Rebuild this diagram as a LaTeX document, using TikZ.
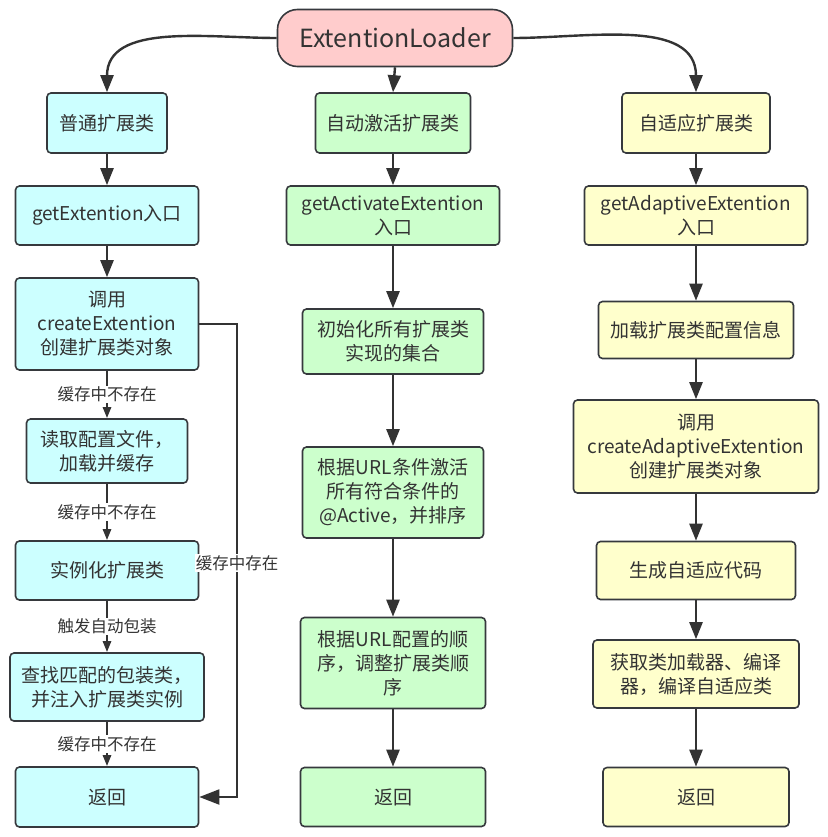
\documentclass[tikz,border=0pt]{standalone}
\usepackage{fontspec}
\setmainfont{Noto Sans CJK SC}
\usetikzlibrary{arrows.meta, positioning, calc}
\definecolor{ink}{HTML}{333333}
\definecolor{edge}{HTML}{36393D}
\definecolor{pinkfill}{HTML}{FFCCCC}
\definecolor{cyanfill}{HTML}{CCFFFF}
\definecolor{greenfill}{HTML}{CCFFCC}
\definecolor{yellowfill}{HTML}{FFFFCC}

\begin{document}
\begin{tikzpicture}[x=1pt, y=-1pt,
  box/.style={draw=edge, line width=1.6pt, rounded corners=4pt, align=center,
    text=ink, inner sep=2pt, font=\fontsize{19}{24}\selectfont},
  wh/.style 2 args={minimum width=#1pt, minimum height=#2pt},
  cyanbox/.style={box, fill=cyanfill},
  greenbox/.style={box, fill=greenfill},
  yellowbox/.style={box, fill=yellowfill},
  arr/.style={draw=ink, line width=2.4pt, -{Triangle[length=17pt,width=13pt]}},
  tagarr/.style={draw=ink, line width=2.4pt, -{Triangle[length=11pt,width=8pt]}},
  tag/.style={fill=white, text=ink, inner sep=1pt, font=\fontsize{16.5}{20}\selectfont}]
  \useasboundingbox (0,0) rectangle (827,837);

  % Root and the three kinds
  \node[box, fill=pinkfill, rounded corners=20pt, wh={235}{57},
    font=\fontsize{25}{30}\selectfont] (loader) at (395,38) {ExtentionLoader};
  \node[cyanbox, wh={120}{60}]   (normal)   at (107,123) {普通扩展类};
  \node[greenbox, wh={155}{60}]  (activate) at (393,123) {自动激活扩展类};
  \node[yellowbox, wh={148}{60}] (adaptive) at (696,123) {自适应扩展类};

  % Left column
  \node[cyanbox, wh={183}{59}] (getext) at (107,215.5) {getExtention入口};
  \node[cyanbox, wh={183}{92}] (create) at (107,324) {调用\\createExtention\\创建扩展类对象};
  \node[cyanbox, wh={161}{64}] (read)   at (107,451) {读取配置文件，\\加载并缓存};
  \node[cyanbox, wh={183}{59}] (inst)   at (107,570.5) {实例化扩展类};
  \node[cyanbox, wh={194}{68}] (wrap)   at (107,687) {查找匹配的包装类，\\并注入扩展类实例};
  \node[cyanbox, wh={183}{60}] (ret1)   at (107,797) {返回};

  % Middle column
  \node[greenbox, wh={213}{59}] (getact)   at (393,215.5) {getActivateExtention\\入口};
  \node[greenbox, wh={181}{65}] (init)     at (393,341.5) {初始化所有扩展类\\实现的集合};
  \node[greenbox, wh={181}{91}] (urlcond)  at (393,492.5) {根据URL条件激活\\所有符合条件的\\@Active，并排序};
  \node[greenbox, wh={185}{91}] (urlorder) at (393,663) {根据URL配置的顺\\序，调整扩展类顺\\序};
  \node[greenbox, wh={185}{59}] (ret2)     at (393,797) {返回};

  % Right column
  \node[yellowbox, wh={223}{59}] (getadp)    at (696,215.5) {getAdaptiveExtention\\入口};
  \node[yellowbox, wh={195}{57}] (loadcfg)   at (696,330) {加载扩展类配置信息};
  \node[yellowbox, wh={245}{93}] (createadp) at (696,446.5) {调用\\createAdaptiveExtention\\创建扩展类对象};
  \node[yellowbox, wh={199}{58}] (gencode)   at (696,570.5) {生成自适应代码};
  \node[yellowbox, wh={206}{68}] (compile)   at (696,674) {获取类加载器、编译\\器，编译自适应类};
  \node[yellowbox, wh={186}{59}] (ret3)      at (696,797) {返回};

  % From the root
  \draw[arr] (loader.west) to[out=180, in=90] (normal.north);
  \draw[arr] (loader.south) -- (activate.north);
  \draw[arr] (loader.east) to[out=0, in=90] (adaptive.north);

  % Left flow
  \draw[arr] (normal) -- (getext);
  \draw[arr] (getext) -- (create);
  \draw[tagarr] (create) -- node[tag] (miss1) {缓存中不存在} (read);
  \draw[tagarr] (read) -- node[tag] (miss2) {缓存中不存在} (inst);
  \draw[tagarr] (inst) -- node[tag] (wrapit) {触发自动包装} (wrap);
  \draw[tagarr] (wrap) -- node[tag] (miss3) {缓存中不存在} (ret1);
  \coordinate (bend) at (237,563);
  \draw[arr, line width=2pt, -{Triangle[length=20pt,width=15pt]}]
    (create.east) -| (bend) |- (ret1.east);
  \node[tag] (hit) at (bend) {缓存中存在};

  % Middle flow
  \draw[arr] (activate) -- (getact);
  \draw[arr] (getact) -- (init);
  \draw[arr] (init) -- (urlcond);
  \draw[arr] (urlcond) -- (urlorder);
  \draw[arr] (urlorder) -- (ret2);

  % Right flow
  \draw[arr] (adaptive) -- (getadp);
  \draw[arr] (getadp) -- (loadcfg);
  \draw[arr] (loadcfg) -- (createadp);
  \draw[arr] (createadp) -- (gencode);
  \draw[arr] (gencode) -- (compile);
  \draw[arr] (compile) -- (ret3);
\end{tikzpicture}
\end{document}
